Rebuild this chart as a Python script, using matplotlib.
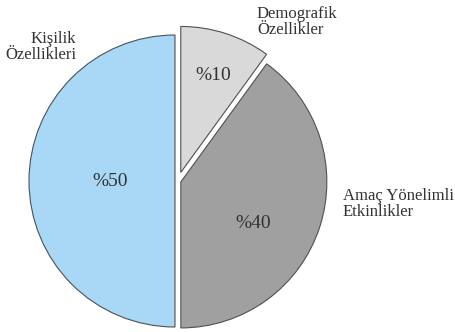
import matplotlib.pyplot as plt

labels = ["Demografik\nÖzellikler", "Amaç Yönelimli\nEtkinlikler", "Kişilik\nÖzellikleri"]
values = [10, 40, 50]
pct_labels = ["%10", "%40", "%50"]
colors = ["#d9d9d9", "#a0a0a0", "#a8d8f5"]

plt.rcParams["font.family"] = ["Liberation Serif", "DejaVu Serif"]

fig = plt.figure(figsize=(4.56, 3.32), dpi=100)
ax = fig.add_axes([0, 0, 1, 1])

# pixel-like data units, origin at bottom-left
cx, cy, r = 178, 151, 146
ax.pie(
    values,
    startangle=90,
    counterclock=False,
    radius=r,
    center=(cx, cy),
    colors=colors,
    explode=[9, 3, 3],
    wedgeprops={"edgecolor": "#505050", "linewidth": 0.8},
    frame=True,
)
ax.set_xlim(0, 456)
ax.set_ylim(0, 332)
ax.set_aspect("equal")
ax.axis("off")

# percent labels
ax.text(213, 332 - 75, pct_labels[0], ha="center", va="center", fontsize=14, color="#333333")
ax.text(253, 332 - 224, pct_labels[1], ha="center", va="center", fontsize=14, color="#333333")
ax.text(110, 332 - 182, pct_labels[2], ha="center", va="center", fontsize=14, color="#333333")

# category labels
ax.text(257, 332 - 22, labels[0], ha="left", va="center", fontsize=12, color="#333333", linespacing=1.05)
ax.text(343, 332 - 204, labels[1], ha="left", va="center", fontsize=12, color="#333333", linespacing=1.05)
ax.text(76, 332 - 47, labels[2], ha="right", va="center", fontsize=12, color="#333333", linespacing=1.05)

fig.savefig("out.png", dpi=100)
